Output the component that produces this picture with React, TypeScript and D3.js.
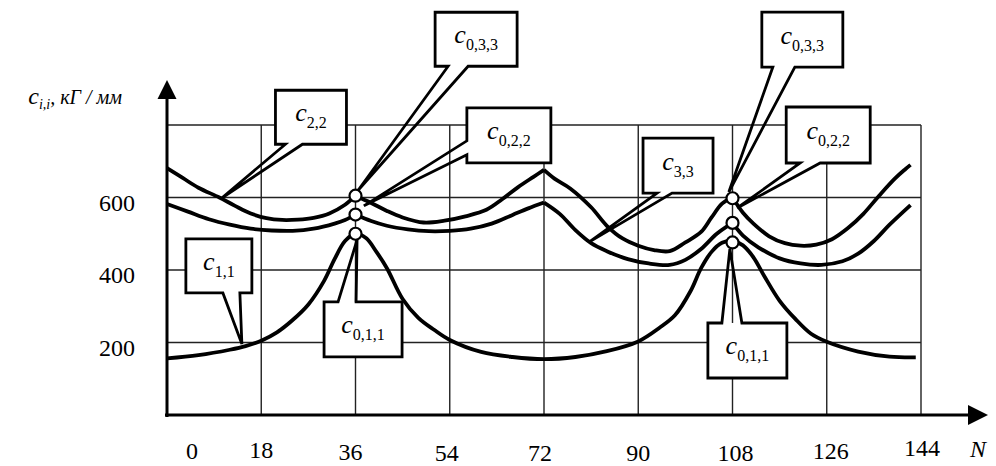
import React from "react";
import * as d3 from "d3";

const W = 996;
const H = 466;

// axis ticks
const nTicks = [0, 18, 36, 54, 72, 90, 108, 126, 144];
const cTicks = [200, 400, 600];
const cGrid = [200, 400, 600, 800];

// c1,1 (smooth bell curve)
const c11N = [0, 6, 12, 15, 18, 21, 24, 27, 30, 32, 34, 36, 38, 40, 42, 45, 48, 51, 54, 60, 66, 72, 78, 84, 90, 94, 97, 100, 102, 104, 106, 108, 110, 112, 114, 117, 120, 123, 126, 132, 138, 143];
const c11V = [156, 165, 180, 190, 205, 228, 262, 305, 370, 430, 480, 500, 488, 450, 405, 320, 268, 235, 207, 174, 160, 154, 160, 176, 203, 240, 275, 342, 405, 450, 475, 480, 468, 435, 385, 315, 265, 224, 202, 175, 161, 159];

// upper curve (cusps at 36, 72, 108)
const upperN = [0, 3, 6, 10, 13, 16, 19, 22, 25, 28, 31, 34, 36, 39, 42, 45, 49, 53, 57, 61, 64, 67, 70, 72, 74, 77, 81, 84, 87, 90, 93, 96, 99, 102, 104, 106, 108, 110, 112, 115, 118, 121, 124, 127, 130, 133, 136, 139, 141, 142];
const upperV = [681, 654, 627, 600, 577, 556, 543, 538, 539, 544, 556, 580, 605, 585, 563, 545, 531, 536, 548, 566, 595, 628, 657, 676, 652, 625, 573, 522, 487, 467, 455, 452, 476, 505, 545, 583, 600, 558, 528, 493, 474, 467, 470, 485, 515, 555, 605, 652, 678, 690];

// lower curve (cusps at 36, 72, 108)
const lowerN = [0, 4, 8, 12, 16, 20, 24, 28, 32, 34, 36, 39, 42, 46, 50, 54, 58, 62, 66, 69, 72, 75, 78, 81, 84, 88, 92, 96, 99, 102, 105, 108, 110, 113, 117, 121, 125, 129, 132, 135, 138, 142];
const lowerV = [582, 561, 540, 525, 514, 509, 508, 514, 528, 538, 553, 535, 522, 512, 507, 508, 514, 528, 552, 570, 586, 555, 510, 474, 452, 430, 418, 414, 428, 458, 500, 530, 495, 462, 432, 418, 414, 424, 445, 480, 525, 579];

const cusps = [36, 72, 108];

// marked points
const nodeN = [36, 36, 36, 108, 108, 108];
const nodeV = [605, 553, 500, 598, 530, 476];

// callouts: subscript, tip (N, value)
const calloutSub = ["2,2", "0,3,3", "0,2,2", "1,1", "0,1,1", "3,3", "0,3,3", "0,2,2", "0,1,1"];
const calloutTipN = [10.4, 36.5, 37.6, 14.3, 36.3, 80.6, 107.3, 108.9, 107.5];
const calloutTipV = [598, 620, 577, 196, 483, 477, 615, 571, 458];

// callout box layout (pixel offsets from tip) and wedge side
const calloutLayout = [
  { dx: 54, dy: -108, w: 71, h: 54, side: "bottom", a: 10, b: 27 },
  { dx: 77, dy: -178, w: 82, h: 54, side: "bottom", a: 13, b: 33 },
  { dx: 103, dy: -98, w: 84, h: 55, side: "left", a: 33, b: 47 },
  { dx: -56, dy: -105, w: 66, h: 54, side: "bottom", a: 37, b: 54 },
  { dx: -33, dy: 62, w: 78, h: 55, side: "top", a: 14, b: 32 },
  { dx: 54, dy: -104, w: 70, h: 55, side: "bottom", a: 14, b: 29 },
  { dx: 33, dy: -180, w: 81, h: 55, side: "bottom", a: 11, b: 33 },
  { dx: 49, dy: -101, w: 84, h: 56, side: "bottom", a: 14, b: 34 },
  { dx: -22, dy: 74, w: 79, h: 55, side: "top", a: 14, b: 34 },
];

// small offsets of x tick labels as printed
const tickDx = [25, 0, -5, -3, -4, 0, 3, 4, 1];
const tickDy = [0, -1, 1, 2, 2, 2, 2, 0, -3];

const FONT = '"Liberation Serif", "Times New Roman", Times, serif';

function splitAtCusps(ns: number[], vs: number[]) {
  const segs: [number, number][][] = [];
  let cur: [number, number][] = [];
  ns.forEach((n, i) => {
    cur.push([n, vs[i]]);
    if (cusps.includes(n) && cur.length > 1) {
      segs.push(cur);
      cur = [[n, vs[i]]];
    }
  });
  if (cur.length > 1) segs.push(cur);
  return segs;
}

function calloutPath(tx: number, ty: number, L: any) {
  const x = tx + L.dx;
  const y = ty + L.dy;
  const { w, h, a, b } = L;
  const p = d3.path();
  if (L.side === "bottom") {
    p.moveTo(x, y);
    p.lineTo(x + w, y);
    p.lineTo(x + w, y + h);
    p.lineTo(x + b, y + h);
    p.lineTo(tx, ty);
    p.lineTo(x + a, y + h);
    p.lineTo(x, y + h);
  } else if (L.side === "top") {
    p.moveTo(x, y);
    p.lineTo(x + a, y);
    p.lineTo(tx, ty);
    p.lineTo(x + b, y);
    p.lineTo(x + w, y);
    p.lineTo(x + w, y + h);
    p.lineTo(x, y + h);
  } else {
    p.moveTo(x, y);
    p.lineTo(x + w, y);
    p.lineTo(x + w, y + h);
    p.lineTo(x, y + h);
    p.lineTo(x, y + b);
    p.lineTo(tx, ty);
    p.lineTo(x, y + a);
  }
  p.closePath();
  return p.toString();
}

export default function App() {
  const x = d3.scaleLinear().domain([0, 144]).range([167, 921]);
  const y = d3.scaleLinear().domain([0, 800]).range([415, 125]);

  const line = d3
    .line<[number, number]>()
    .x((d) => x(d[0]))
    .y((d) => y(d[1]))
    .curve(d3.curveCatmullRom.alpha(0.5));

  const c11 = c11N.map((n, i) => [n, c11V[i]] as [number, number]);
  const upperSegs = splitAtCusps(upperN, upperV);
  const lowerSegs = splitAtCusps(lowerN, lowerV);

  const x0 = x(0);
  const y0 = y(0);
  const xEnd = x(144);
  const yTop = y(800);
  const txt = { fontFamily: FONT };

  return (
    <svg
      width={W}
      height={H}
      style={{ position: "absolute", left: 0, top: 0, background: "#fff", fontFamily: FONT }}
    >
      {/* grid */}
      <g stroke="#222" strokeWidth={1.4}>
        {nTicks.slice(1).map((n) => (
          <line key={"v" + n} x1={x(n)} x2={x(n)} y1={yTop} y2={y0} />
        ))}
        {cGrid.map((c) => (
          <line key={"h" + c} x1={x0} x2={xEnd} y1={y(c)} y2={y(c)} />
        ))}
      </g>

      {/* axes */}
      <g stroke="#000" strokeWidth={3}>
        <line x1={x0} x2={x0} y1={y0 + 2} y2={97} />
        <line x1={x0 - 2} x2={970} y1={y0} y2={y0} />
      </g>
      <polygon points={`${x0},80 ${x0 - 9.5},99 ${x0 + 9.5},99`} fill="#000" />
      <polygon points={`988,${y0} 968,${y0 - 10} 968,${y0 + 10}`} fill="#000" />

      {/* curves */}
      <g fill="none" stroke="#000" strokeWidth={3.8} strokeLinejoin="miter">
        <path d={line(c11) || ""} />
        {upperSegs.map((s, i) => (
          <path key={"u" + i} d={line(s) || ""} />
        ))}
        {lowerSegs.map((s, i) => (
          <path key={"l" + i} d={line(s) || ""} />
        ))}
      </g>

      {/* callouts */}
      {calloutSub.map((sub, i) => {
        const L = calloutLayout[i];
        const tx = x(calloutTipN[i]);
        const ty = y(calloutTipV[i]);
        const bx = tx + L.dx;
        const by = ty + L.dy;
        return (
          <g key={"c" + i}>
            <rect x={bx} y={by} width={L.w} height={L.h} fill="#fff" />
            <path d={calloutPath(tx, ty, L)} fill="none" stroke="#000" strokeWidth={2.8} />
            <text x={bx + L.w / 2} y={by + L.h / 2 + 4} textAnchor="middle" fill="#000" style={txt}>
              <tspan fontStyle="italic" fontSize={26}>c</tspan>
              <tspan fontSize={16} dy={7}>{sub}</tspan>
            </text>
          </g>
        );
      })}

      {/* marked points */}
      {nodeN.map((n, i) => (
        <circle key={"p" + i} cx={x(n)} cy={y(nodeV[i])} r={6} fill="#fff" stroke="#000" strokeWidth={2.2} />
      ))}

      {/* tick labels */}
      <g fontSize={24} fill="#000">
        {cTicks.map((c) => (
          <text key={"yt" + c} x={117} y={y(c) + 13} textAnchor="middle" style={txt}>
            {c}
          </text>
        ))}
        {nTicks.map((n, i) => (
          <text key={"xt" + n} x={x(n) + tickDx[i]} y={459 + tickDy[i]} textAnchor="middle" style={txt}>
            {n}
          </text>
        ))}
        <text x={978} y={457} textAnchor="middle" fontStyle="italic" style={txt}>
          N
        </text>
      </g>

      {/* y axis title */}
      <text x={122} y={104} textAnchor="end" fontStyle="italic" fill="#000" style={txt}>
        <tspan fontSize={24}>c</tspan>
        <tspan fontSize={14} dy={5}>i,i</tspan>
        <tspan fontSize={20} dy={-5}>, кГ / мм</tspan>
      </text>
    </svg>
  );
}
